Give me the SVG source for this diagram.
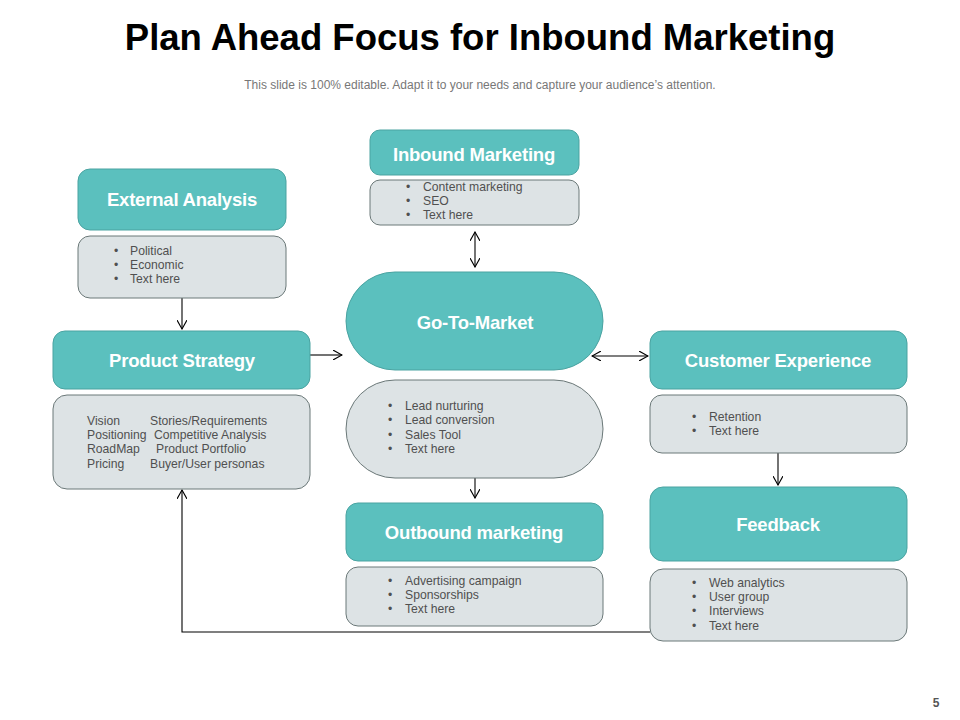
<svg xmlns="http://www.w3.org/2000/svg" width="960" height="720" viewBox="0 0 960 720">
<defs>
<style>
.hd{fill:#5bc0be;stroke:#4aa3a1;stroke-width:1}
.bd{fill:#dde3e5;stroke:#6b7878;stroke-width:1}
.ht{font-family:"Liberation Sans",Arial,sans-serif;font-weight:bold;font-size:18.5px;fill:#ffffff;text-anchor:middle;letter-spacing:-0.2px}
.bt{font-family:"Liberation Sans",Arial,sans-serif;font-size:12.2px;fill:#505050}
.cn{fill:none;stroke:#000;stroke-width:1.1}
</style>
<marker id="ah" viewBox="0 0 10 10" refX="9" refY="5" markerWidth="10" markerHeight="10" markerUnits="userSpaceOnUse" orient="auto-start-reverse">
<path d="M0,0 L9,5 L0,10" fill="none" stroke="#000" stroke-width="1.1"/>
</marker>
</defs>
<rect width="960" height="720" fill="#ffffff"/>
<text x="480" y="50" font-family="Liberation Sans,Arial,sans-serif" font-weight="bold" font-size="36.5" fill="#000" text-anchor="middle">Plan Ahead Focus for Inbound Marketing</text>
<text x="480" y="89" font-family="Liberation Sans,Arial,sans-serif" font-size="12" fill="#777" text-anchor="middle">This slide is 100% editable. Adapt it to your needs and capture your audience’s attention.</text>

<g id="connectors">
<path class="cn" d="M182,298 V329" marker-end="url(#ah)"/>
<path class="cn" d="M475,232 V267" marker-start="url(#ah)" marker-end="url(#ah)"/>
<path class="cn" d="M310,355 H342" marker-end="url(#ah)"/>
<path class="cn" d="M592,356 H648" marker-start="url(#ah)" marker-end="url(#ah)"/>
<path class="cn" d="M475,478 V498" marker-end="url(#ah)"/>
<path class="cn" d="M778,453 V485" marker-end="url(#ah)"/>
<path class="cn" d="M650,632 H182 V490" marker-end="url(#ah)"/>
</g>

<g id="external-analysis">
<rect class="hd" x="78" y="169" width="208" height="61" rx="12"/>
<text class="ht" x="182" y="206">External Analysis</text>
<rect class="bd" x="78" y="236" width="208" height="62" rx="12"/>
<text class="bt"><tspan x="114" y="255">•</tspan><tspan x="130" y="255">Political</tspan><tspan x="114" y="269">•</tspan><tspan x="130" y="269">Economic</tspan><tspan x="114" y="283">•</tspan><tspan x="130" y="283">Text here</tspan></text>
</g>

<g id="inbound-marketing">
<rect class="hd" x="370" y="130" width="209" height="45" rx="10"/>
<text class="ht" x="474" y="161">Inbound Marketing</text>
<rect class="bd" x="370" y="180" width="209" height="45" rx="10"/>
<text class="bt"><tspan x="406" y="191">•</tspan><tspan x="423" y="191">Content marketing</tspan><tspan x="406" y="205">•</tspan><tspan x="423" y="205">SEO</tspan><tspan x="406" y="219">•</tspan><tspan x="423" y="219">Text here</tspan></text>
</g>

<g id="go-to-market">
<rect class="hd" x="346" y="272" width="257" height="98" rx="49"/>
<text class="ht" x="475" y="329">Go-To-Market</text>
<rect class="bd" x="346" y="380" width="257" height="98" rx="49"/>
<text class="bt"><tspan x="388" y="410">•</tspan><tspan x="405" y="410">Lead nurturing</tspan><tspan x="388" y="424">•</tspan><tspan x="405" y="424">Lead conversion</tspan><tspan x="388" y="439">•</tspan><tspan x="405" y="439">Sales Tool</tspan><tspan x="388" y="453">•</tspan><tspan x="405" y="453">Text here</tspan></text>
</g>

<g id="outbound-marketing">
<rect class="hd" x="346" y="503" width="257" height="58" rx="12"/>
<text class="ht" x="474" y="539">Outbound marketing</text>
<rect class="bd" x="346" y="567" width="257" height="59" rx="12"/>
<text class="bt"><tspan x="388" y="585">•</tspan><tspan x="405" y="585">Advertising campaign</tspan><tspan x="388" y="599">•</tspan><tspan x="405" y="599">Sponsorships</tspan><tspan x="388" y="613">•</tspan><tspan x="405" y="613">Text here</tspan></text>
</g>

<g id="product-strategy">
<rect class="hd" x="53" y="331" width="257" height="58" rx="12"/>
<text class="ht" x="182" y="367">Product Strategy</text>
<rect class="bd" x="53" y="395" width="257" height="94" rx="14"/>
<text class="bt"><tspan x="87" y="425">Vision</tspan><tspan x="150" y="425">Stories/Requirements</tspan><tspan x="87" y="439">Positioning</tspan><tspan x="154" y="439">Competitive Analysis</tspan><tspan x="87" y="453">RoadMap</tspan><tspan x="156" y="453">Product Portfolio</tspan><tspan x="87" y="468">Pricing</tspan><tspan x="150" y="468">Buyer/User personas</tspan></text>
</g>

<g id="customer-experience">
<rect class="hd" x="650" y="331" width="257" height="58" rx="12"/>
<text class="ht" x="778" y="367">Customer Experience</text>
<rect class="bd" x="650" y="395" width="257" height="58" rx="12"/>
<text class="bt"><tspan x="692" y="421">•</tspan><tspan x="709" y="421">Retention</tspan><tspan x="692" y="435">•</tspan><tspan x="709" y="435">Text here</tspan></text>
</g>

<g id="feedback">
<rect class="hd" x="650" y="487" width="257" height="74" rx="13"/>
<text class="ht" x="778" y="531">Feedback</text>
<rect class="bd" x="650" y="569" width="257" height="72" rx="13"/>
<text class="bt"><tspan x="692" y="587">•</tspan><tspan x="709" y="587">Web analytics</tspan><tspan x="692" y="601">•</tspan><tspan x="709" y="601">User group</tspan><tspan x="692" y="615">•</tspan><tspan x="709" y="615">Interviews</tspan><tspan x="692" y="630">•</tspan><tspan x="709" y="630">Text here</tspan></text>
</g>

<text x="936" y="707" font-family="Liberation Sans,Arial,sans-serif" font-weight="bold" font-size="12" fill="#555" text-anchor="middle">5</text>
</svg>
